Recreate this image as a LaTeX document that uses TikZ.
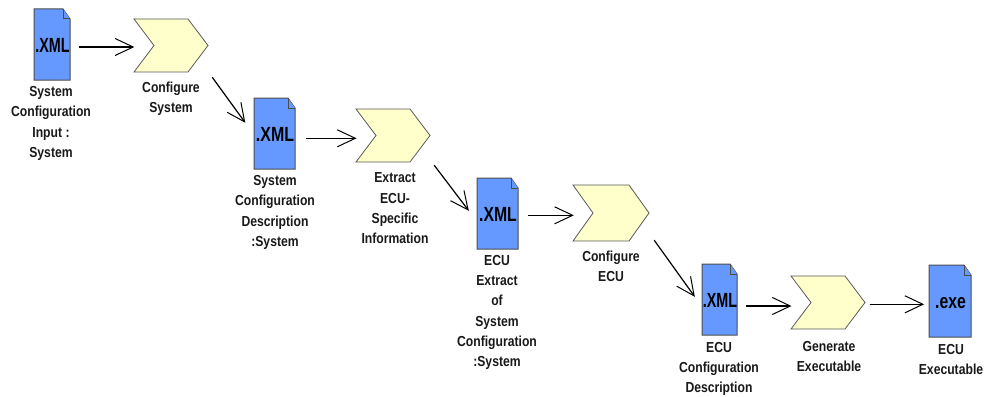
\documentclass[tikz,border=0pt]{standalone}
\usepackage{fontspec}
\setmainfont{Liberation Sans}[FakeStretch=0.84]
\usetikzlibrary{arrows.meta}
\definecolor{docblue}{HTML}{6699FF}
\definecolor{chevyellow}{HTML}{FFFFCC}
\tikzset{
  x=1pt,y=-1pt,
  docbody/.style={draw=black!70,line width=1pt,fill=docblue},
  chevbody/.style={draw=black!65,line width=0.8pt,fill=chevyellow},
  lbl/.style={font=\fontsize{14.5}{20.3}\selectfont\bfseries,align=center,text=black!90,inner sep=0pt},
  ext/.style={font=\fontsize{20.5}{20}\selectfont\bfseries,inner sep=0pt,anchor=base},
  flow/.style={draw=black,line width=1.2pt,-{Straight Barb[length=18pt,width=17pt,line width=1pt]}},
}
% \docshape{name}{x0}{y0}{x1}{y1}{text}{stretch}
\newcommand{\docshape}[7]{%
  \draw[docbody] (#2,#3) -- ({#4-7},#3) -- (#4,{#3+10}) -- (#4,#5) -- (#2,#5) -- cycle;
  \draw[docbody] ({#4-7},#3) -- ({#4-7},{#3+10}) -- (#4,{#3+10});
  \node[inner sep=0pt,minimum width={#4-#2},minimum height={#5-#3}] (#1) at ({(#2+#4)/2},{(#3+#5)/2}) {};
  \node[ext] (#1x) at ({(#2+#4)/2+0.5},{#3+43.7}) {\addfontfeature{FakeStretch=#7}#6};
}
% \chevshape{name}{x0}{y0}{x1}{y1}
\newcommand{\chevshape}[5]{%
  \draw[chevbody] (#2,#3) -- ({#4-20},#3) -- (#4,{(#3+#5)/2}) -- ({#4-20},#5) -- (#2,#5) -- ({#2+20},{(#3+#5)/2}) -- cycle;
  \node[inner sep=0pt,minimum width={#4-#2},minimum height={#5-#3}] (#1) at ({(#2+#4)/2},{(#3+#5)/2}) {};
}
\begin{document}
\begin{tikzpicture}
\useasboundingbox (0,0) rectangle (984,396);
\docshape{d1}{34}{9}{70}{80}{.XML}{0.70}
\docshape{d2}{254}{98}{295}{169}{.XML}{0.78}
\docshape{d3}{477}{178}{518}{249}{.XML}{0.77}
\docshape{d4}{702}{264}{737}{335}{.XML}{0.70}
\docshape{d5}{929}{265}{971}{337}{.exe}{0.77}
\chevshape{c1}{134}{19}{208}{72}
\chevshape{c2}{356}{109}{430}{162}
\chevshape{c3}{573}{185}{649}{241}
\chevshape{c4}{791}{276}{865}{329}
\node[lbl] (t1) at (51,123.5) {System\\Configuration\\Input :\\System};
\node[lbl] (t2) at (171,99) {Configure\\System};
\node[lbl] (t3) at (275,212.5) {System\\Configuration\\Description\\:System};
\node[lbl] (t4) at (395,208.5) {Extract\\ECU-\\Specific\\Information};
\node[lbl] (t5) at (497,312.5) {ECU\\Extract\\of\\System\\Configuration\\:System};
\node[lbl] (t6) at (611,266.5) {Configure\\ECU};
\node[lbl] (t7) at (719,369) {ECU\\Configuration\\Description};
\node[lbl] (t8) at (829,356.5) {Generate\\Executable};
\node[lbl] (t9) at (951,359.5) {ECU\\Executable};
\draw[flow] ([shift={(9,2.5)}]d1.east) -- ([shift={(0.5,1.5)}]c1.west);
\draw[flow] ([shift={(4,5)}]c1.south east) -- ([shift={(-8.5,25)}]d2.north west);
\draw[flow] ([shift={(11,4.8)}]d2.east) -- ([shift={(0.7,2.8)}]c2.west);
\draw[flow] ([shift={(4,3)}]c2.south east) -- ([shift={(-8,33)}]d3.north west);
\draw[flow] ([shift={(10,1.8)}]d3.east) -- ([shift={(1,2.3)}]c3.west);
\draw[flow] ([shift={(5,-1)}]c3.south east) -- ([shift={(-7,33)}]d4.north west);
\draw[flow] ([shift={(9,6.5)}]d4.east) -- ([shift={(0.7,3.5)}]c4.west);
\draw[flow] ([shift={(4.3,1.8)}]c4.east) -- ([shift={(-4.7,3.3)}]d5.west);
\end{tikzpicture}
\end{document}
